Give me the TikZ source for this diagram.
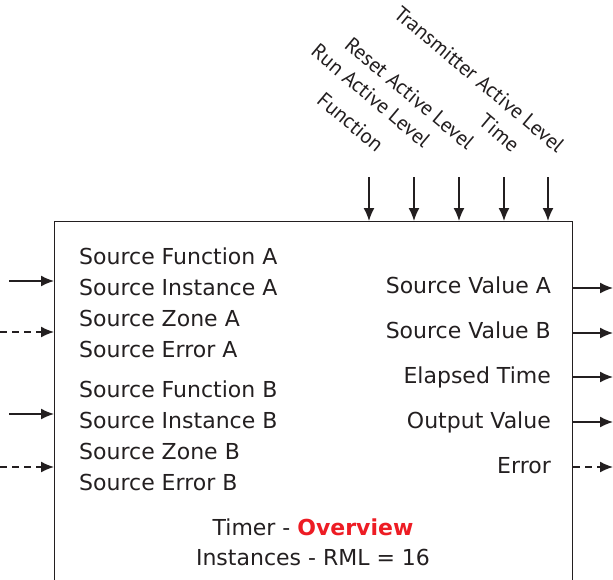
\documentclass[tikz,border=0pt]{standalone}
\usepackage{fontspec}
\setmainfont{DejaVu Sans}
\newfontfamily\toplabelfont{PT Sans}
\usetikzlibrary{arrows.meta}
\usepackage{xcolor}
\definecolor{textgray}{HTML}{231F20}
\definecolor{brandred}{HTML}{ED1C24}

\begin{document}
\begin{tikzpicture}[
            x=1pt, y=-1pt,
            >={Latex[length=13pt,width=11pt]},
            block/.style={draw=textgray, line width=1.3pt, rectangle, minimum width=518pt, minimum height=400pt, anchor=north west, inner sep=0pt},
            port/.style={font=\fontsize{22}{24}\selectfont, text=textgray, inner sep=0pt},
            inport/.style={port, anchor=base west},
            outport/.style={port, anchor=base east},
            toplabel/.style={font=\toplabelfont\fontsize{21}{24}\selectfont, text=textgray, inner sep=0pt, anchor=base east, rotate=-40},
            input/.style={coordinate},
            output/.style={coordinate},
            wire/.style={->, textgray, line width=1.5pt},
            dashwire/.style={wire, dash pattern=on 7pt off 5pt},
        ]
            \clip (0,0) rectangle (613,579);
            \node [block] (timer) at (54,221) {};

            % inputs on the left
            \node [inport] (srcfa) at (79,264) {Source Function A};
            \node [inport] (srcia) at (79,295) {Source Instance A};
            \node [inport] (srcza) at (79,326) {Source Zone A};
            \node [inport] (srcea) at (79,357) {Source Error A};
            \node [inport] (srcfb) at (79,397) {Source Function B};
            \node [inport] (srcib) at (79,428) {Source Instance B};
            \node [inport] (srczb) at (79,459) {Source Zone B};
            \node [inport] (srceb) at (79,490) {Source Error B};

            \node [input] (ina)  at (9,281) {};
            \node [input] (ina2) at (0,332) {};
            \node [input] (inb)  at (9,414) {};
            \node [input] (inb2) at (0,467) {};
            \draw [wire]     (ina)  -- (ina  -| timer.west);
            \draw [dashwire] (ina2) -- (ina2 -| timer.west);
            \draw [wire]     (inb)  -- (inb  -| timer.west);
            \draw [dashwire] (inb2) -- (inb2 -| timer.west);

            % outputs on the right
            \node [outport] (vala)  at (551,293) {Source Value A};
            \node [outport] (valb)  at (551,338) {Source Value B};
            \node [outport] (elaps) at (551,383) {Elapsed Time};
            \node [outport] (outv)  at (551,428) {Output Value};
            \node [outport] (err)   at (551,473) {Error};

            \node [output] (outa) at (613,288) {};
            \node [output] (outb) at (613,333) {};
            \node [output] (oute) at (613,377) {};
            \node [output] (outo) at (613,422) {};
            \node [output] (outr) at (613,467) {};
            \draw [wire]     (outa -| timer.east) -- (outa);
            \draw [wire]     (outb -| timer.east) -- (outb);
            \draw [wire]     (oute -| timer.east) -- (oute);
            \draw [wire]     (outo -| timer.east) -- (outo);
            \draw [dashwire] (outr -| timer.east) -- (outr);

            % parameters on top
            \node [toplabel] (fnlbl)  at (376,153) {Function};
            \node [toplabel] (runlbl) at (423,149) {Run Active Level};
            \node [toplabel] (rstlbl) at (467,151) {Reset Active Level};
            \node [toplabel] (timlbl) at (512,153) {Time};
            \node [toplabel] (txlbl)  at (557,154) {Transmitter Active Level};

            \node [input] (fn)  at (369,177) {};
            \node [input] (run) at (414,177) {};
            \node [input] (rst) at (459,177) {};
            \node [input] (tim) at (504,177) {};
            \node [input] (tx)  at (548,177) {};
            \draw [wire] (fn)  -- (fn  |- timer.north);
            \draw [wire] (run) -- (run |- timer.north);
            \draw [wire] (rst) -- (rst |- timer.north);
            \draw [wire] (tim) -- (tim |- timer.north);
            \draw [wire] (tx)  -- (tx  |- timer.north);

            % title
            \node [port, anchor=base] (title) at (313,535) {Timer - \textcolor{brandred}{\bfseries Overview}};
            \node [port, anchor=base] (count) at (313,565) {Instances - RML = 16};
        \end{tikzpicture}
\end{document}
